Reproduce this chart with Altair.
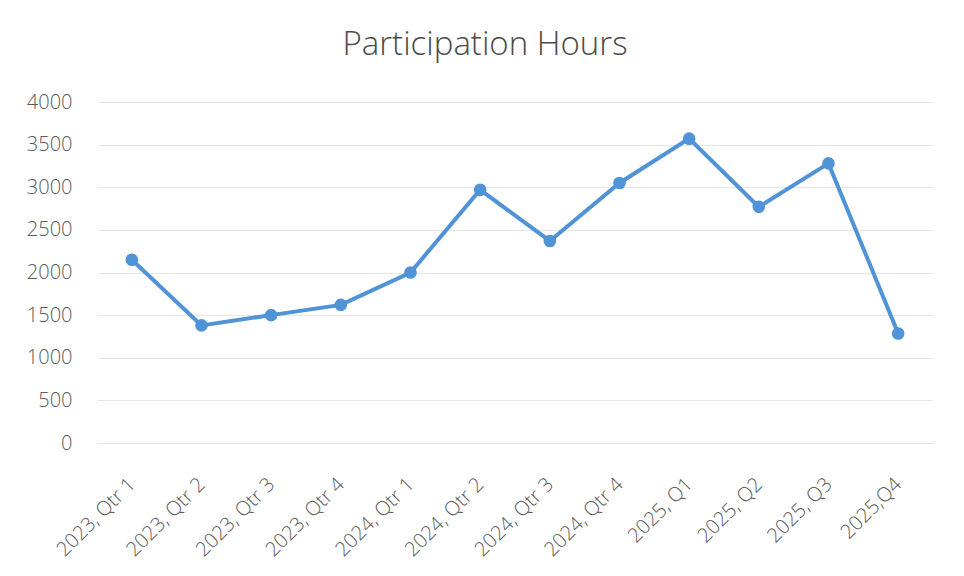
import altair as alt
import pandas as pd

quarters = ["2023, Qtr 1", "2023, Qtr 2", "2023, Qtr 3", "2023, Qtr 4",
            "2024, Qtr 1", "2024, Qtr 2", "2024, Qtr 3", "2024, Qtr 4",
            "2025, Q1", "2025, Q2", "2025, Q3", "2025,Q4"]
hours = [2150, 1380, 1500, 1620, 2000, 2970, 2370, 3050, 3570, 2770, 3280, 1285]

df = pd.DataFrame({"quarter": quarters, "hours": hours})

FONT = "Open Sans"
BLUE = "#5093d6"

x = alt.X("quarter:N", sort=quarters, title=None,
          scale=alt.Scale(paddingInner=0, paddingOuter=0.5),
          axis=alt.Axis(labelAngle=-45, labelAlign="right", labelBaseline="middle",
                        labelPadding=38, ticks=False, domain=True, domainColor="#e3e3e3",
                        labelFont=FONT, labelFontSize=20, labelFontWeight=300,
                        labelColor="#595959", grid=False))
y = alt.Y("hours:Q", title=None,
          scale=alt.Scale(domain=[0, 4000]),
          axis=alt.Axis(values=[0, 500, 1000, 1500, 2000, 2500, 3000, 3500, 4000],
                        format="d", ticks=False, domain=False, grid=True,
                        gridColor="#e6e6e6",
                        labelFont=FONT, labelFontSize=20, labelFontWeight=300,
                        labelColor="#595959", labelPadding=25))

base = alt.Chart(df)
line = base.mark_line(color=BLUE, strokeWidth=4).encode(x=x, y=y)
pts = base.mark_circle(color=BLUE, size=160, opacity=1).encode(x=x, y=y)

chart = (line + pts).properties(
    width=836, height=341,
    background="white",
    title=alt.TitleParams("Participation Hours", font=FONT, fontSize=33,
                          fontWeight=300, color="#4a4a4a",
                          anchor="middle", dx=-30, offset=30),
    autosize=alt.AutoSizeParams(type="none"),
    padding={"left": 89, "top": 94, "right": 20, "bottom": 120},
).configure_view(strokeWidth=0, stroke="transparent")

chart.save("out.html", embed_options={"renderer": "svg", "actions": False})
